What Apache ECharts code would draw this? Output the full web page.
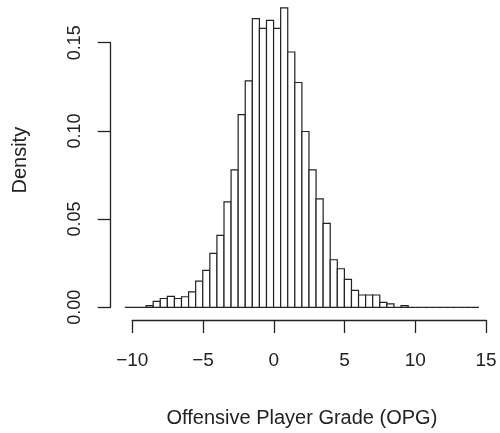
<!DOCTYPE html>
<html>
<head>
<meta charset="utf-8">
<script src="https://cdn.jsdelivr.net/npm/echarts@6/dist/echarts.min.js"></script>
<style>
  html, body { margin: 0; padding: 0; background: #fff; }
  #chartRoot { width: 500px; height: 433px; }
</style>
</head>
<body>
<div id="chartRoot"></div>
<script>
// histogram bins (left edges, width 0.5) and density
const binStart = [
    -10.5, -10, -9.5, -9, -8.5, -8, -7.5, -7, -6.5, -6,
    -5.5, -5, -4.5, -4, -3.5, -3, -2.5, -2, -1.5, -1,
    -0.5, 0, 0.5, 1, 1.5, 2, 2.5, 3, 3.5, 4,
    4.5, 5, 5.5, 6, 6.5, 7, 7.5, 8, 8.5, 9,
    9.5, 10, 10.5, 11, 11.5, 12, 12.5, 13, 13.5, 14
];
const binWidth = 0.5;
const density = [
    0, 0, 0, 0.001, 0.0034, 0.005, 0.0062, 0.005, 0.006, 0.0088,
    0.0149, 0.021, 0.0306, 0.0408, 0.0599, 0.078, 0.1094, 0.1285, 0.1638, 0.1583,
    0.1629, 0.1583, 0.170, 0.1449, 0.1276, 0.0998, 0.078, 0.0616, 0.0476, 0.027,
    0.0219, 0.0159, 0.0096, 0.007, 0.007, 0.007, 0.0028, 0.0019, 0, 0.001,
    0, 0, 0, 0, 0, 0, 0, 0, 0, 0
];
const xTicks = [-10, -5, 0, 5, 10, 15];
const yTicks = [0, 0.05, 0.10, 0.15];

const ink = "#222";
const font = "'Liberation Sans', Arial, Helvetica, sans-serif";

let histData = binStart.map((x0, i) => [x0, x0 + binWidth, density[i]]);

let myChart = echarts.init(document.querySelector("#chartRoot"), null, {renderer: "canvas"});
let option = {
    animation: false,
    backgroundColor: "#fff",
    grid: [
        // plotting region (R's usr extent)
        {left: 110.7, right: 6.9, top: 0.4, bottom: 112.6},
        // x axis drawn only from first to last tick
        {left: 132.3, width: 353.7, top: 280, bottom: 113},
        // y axis drawn only from first to last tick
        {left: 110.7, width: 20, top: 42.7, bottom: 125.7}
    ],
    xAxis: [
        {
            gridIndex: 0, type: "value", min: -11.5, max: 15.5,
            axisLine: {show: false}, axisTick: {show: false}, axisLabel: {show: false},
            splitLine: {show: false},
            name: "Offensive Player Grade (OPG)", nameLocation: "middle", nameGap: 88,
            nameTextStyle: {color: ink, fontFamily: font, fontSize: 20}
        },
        {
            gridIndex: 1, type: "value", min: xTicks[0], max: xTicks[xTicks.length - 1], interval: 5,
            axisLine: {lineStyle: {color: ink, width: 1.3}},
            axisTick: {length: 13, lineStyle: {color: ink, width: 1.3}},
            axisLabel: {
                color: ink, fontFamily: font, fontSize: 19, margin: 31,
                formatter: v => (v < 0 ? "\u2212" + Math.abs(v) : String(v))
            },
            splitLine: {show: false}
        },
        {gridIndex: 2, type: "value", show: false}
    ],
    yAxis: [
        {
            gridIndex: 0, type: "value", min: -0.0072, max: 0.1742,
            axisLine: {show: false}, axisTick: {show: false}, axisLabel: {show: false},
            splitLine: {show: false},
            name: "Density", nameLocation: "middle", nameGap: 80, nameRotate: 90,
            nameTextStyle: {color: ink, fontFamily: font, fontSize: 20}
        },
        {gridIndex: 1, type: "value", show: false},
        {
            gridIndex: 2, type: "value", min: yTicks[0], max: yTicks[yTicks.length - 1], interval: 0.05,
            axisLine: {lineStyle: {color: ink, width: 1.3}},
            axisTick: {length: 13, lineStyle: {color: ink, width: 1.3}},
            axisLabel: {
                color: ink, fontFamily: font, fontSize: 18, margin: 27, rotate: 90,
                formatter: v => v.toFixed(2)
            },
            splitLine: {show: false}
        }
    ],
    series: [
        {
            type: "custom",
            xAxisIndex: 0,
            yAxisIndex: 0,
            data: histData,
            encode: {x: [0, 1], y: 2},
            renderItem: function(params, api){
                let p0 = api.coord([api.value(0), api.value(2)]);
                let p1 = api.coord([api.value(1), 0]);
                return {
                    type: "rect",
                    shape: {x: p0[0], y: p0[1], width: p1[0] - p0[0], height: p1[1] - p0[1]},
                    style: {fill: "#fff", stroke: ink, lineWidth: 1.2}
                };
            }
        }
    ]
};
myChart.setOption(option, true);
</script>
</body>
</html>
